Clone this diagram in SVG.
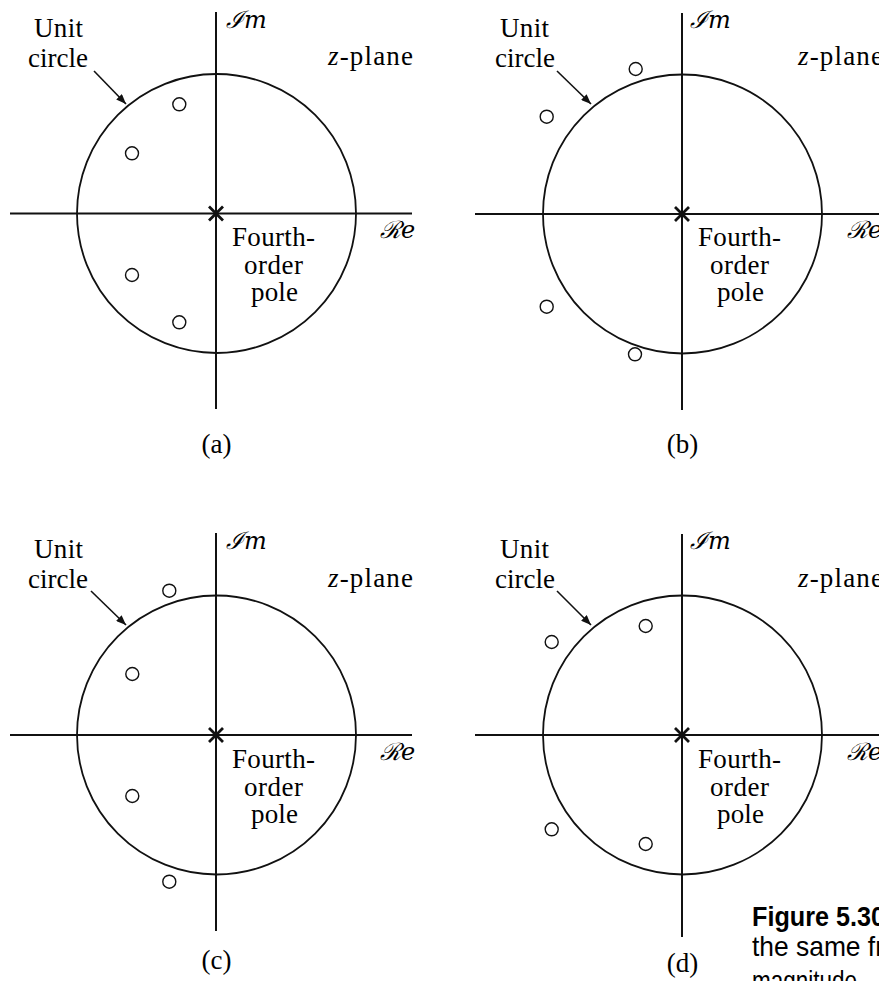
<svg xmlns="http://www.w3.org/2000/svg" width="879" height="981" viewBox="0 0 879 981">
<style>
.ax{stroke:#111;stroke-width:2;fill:none}
.uc{stroke:#111;stroke-width:1.8;fill:none}
.zr{stroke:#111;stroke-width:1.4;fill:none}
.pl{stroke:#111;stroke-width:2.8;fill:none}
.t{font-family:"Liberation Serif","DejaVu Serif",serif;font-size:27px;fill:#000}
.s{font-family:"DejaVu Serif","Liberation Serif",serif;font-size:24px;font-style:italic;fill:#000}
.cap{font-family:"Liberation Sans Narrow","Liberation Sans",sans-serif;font-stretch:condensed;font-size:28px;fill:#000}
.ar{stroke:#111;stroke-width:1.6;fill:none;marker-end:url(#ah)}
</style>
<defs>
<marker id="ah" viewBox="0 0 10 8" refX="10" refY="4" markerWidth="10" markerHeight="8" markerUnits="userSpaceOnUse" orient="auto">
<path d="M0,0 L10,4 L0,8 Z" fill="#111"/>
</marker>
</defs>
<rect width="879" height="981" fill="#fff"/>

<g id="panel-a">
<path class="ax" d="M10 213.5H412M216 12V409"/>
<circle class="uc" cx="216.5" cy="213.5" r="139.5"/>
<path class="pl" d="M209 206.5L223 220.5M223 206.5L209 220.5"/>
<circle class="zr" cx="179.3" cy="104.3" r="6.5"/>
<circle class="zr" cx="132" cy="153.3" r="6.5"/>
<circle class="zr" cx="132" cy="275" r="6.5"/>
<circle class="zr" cx="179.3" cy="322.3" r="6.5"/>
<text class="t" x="34" y="37" textLength="49">Unit</text>
<text class="t" x="28" y="67" textLength="60">circle</text>
<text class="t" x="328" y="65" textLength="85"><tspan font-style="italic">z</tspan>-plane</text>
<text class="s" x="226" y="28">ℐ<tspan>m</tspan></text>
<text class="s" x="380" y="238">ℛ<tspan>e</tspan></text>
<text class="t" x="232" y="246" textLength="83">Fourth-</text>
<text class="t" x="244" y="274" textLength="59">order</text>
<text class="t" x="251" y="301" textLength="47">pole</text>
<text class="t" x="216.5" y="453" text-anchor="middle">(a)</text>
</g>

<g id="panel-b">
<path class="ax" d="M475 214H879M682 13V410"/>
<circle class="uc" cx="682.5" cy="214" r="139.5"/>
<path class="pl" d="M675 207L689 221M689 207L675 221"/>
<circle class="zr" cx="635.7" cy="69" r="6.5"/>
<circle class="zr" cx="546.7" cy="116.7" r="6.5"/>
<circle class="zr" cx="546.7" cy="306.7" r="6.5"/>
<circle class="zr" cx="635" cy="354.3" r="6.5"/>
<text class="t" x="500" y="37" textLength="49">Unit</text>
<text class="t" x="495" y="67" textLength="60">circle</text>
<text class="t" x="798" y="65" textLength="85"><tspan font-style="italic">z</tspan>-plane</text>
<text class="s" x="690" y="28">ℐ<tspan>m</tspan></text>
<text class="s" x="847" y="238">ℛ<tspan>e</tspan></text>
<text class="t" x="698" y="246" textLength="83">Fourth-</text>
<text class="t" x="710" y="274" textLength="59">order</text>
<text class="t" x="717" y="301" textLength="47">pole</text>
<text class="t" x="682.5" y="453" text-anchor="middle">(b)</text>
</g>

<g id="panel-c">
<path class="ax" d="M10 735H412M216 533V931"/>
<circle class="uc" cx="216.5" cy="735" r="139.5"/>
<path class="pl" d="M209 728L223 742M223 728L209 742"/>
<circle class="zr" cx="169.3" cy="590.7" r="6.5"/>
<circle class="zr" cx="132.3" cy="674" r="6.5"/>
<circle class="zr" cx="132.3" cy="796" r="6.5"/>
<circle class="zr" cx="169.3" cy="881.7" r="6.5"/>
<text class="t" x="34" y="558" textLength="49">Unit</text>
<text class="t" x="28" y="588" textLength="60">circle</text>
<text class="t" x="328" y="587" textLength="85"><tspan font-style="italic">z</tspan>-plane</text>
<text class="s" x="226" y="549">ℐ<tspan>m</tspan></text>
<text class="s" x="380" y="760">ℛ<tspan>e</tspan></text>
<text class="t" x="232" y="768" textLength="83">Fourth-</text>
<text class="t" x="244" y="796" textLength="59">order</text>
<text class="t" x="251" y="823" textLength="47">pole</text>
<text class="t" x="216.5" y="969" text-anchor="middle">(c)</text>
</g>

<g id="panel-d">
<path class="ax" d="M475 735H879M682 534V937"/>
<circle class="uc" cx="682.5" cy="735" r="139.5"/>
<path class="pl" d="M675 728L689 742M689 728L675 742"/>
<circle class="zr" cx="645.7" cy="626" r="6.5"/>
<circle class="zr" cx="551.7" cy="642" r="6.5"/>
<circle class="zr" cx="551.7" cy="829.3" r="6.5"/>
<circle class="zr" cx="645.7" cy="844" r="6.5"/>
<text class="t" x="500" y="558" textLength="49">Unit</text>
<text class="t" x="495" y="588" textLength="60">circle</text>
<text class="t" x="798" y="587" textLength="85"><tspan font-style="italic">z</tspan>-plane</text>
<text class="s" x="690" y="549">ℐ<tspan>m</tspan></text>
<text class="s" x="847" y="760">ℛ<tspan>e</tspan></text>
<text class="t" x="698" y="768" textLength="83">Fourth-</text>
<text class="t" x="710" y="796" textLength="59">order</text>
<text class="t" x="717" y="823" textLength="47">pole</text>
<text class="t" x="682.5" y="972" text-anchor="middle">(d)</text>
</g>

<g id="caption">
<text class="cap" x="752" y="926" font-weight="bold" textLength="133" lengthAdjust="spacingAndGlyphs">Figure 5.30</text>
<text class="cap" x="752" y="956" textLength="132" lengthAdjust="spacingAndGlyphs">the same fr</text>
<text class="cap" x="752" y="990" textLength="105" lengthAdjust="spacingAndGlyphs">magnitude</text>
</g>

<g id="connectors">
<path class="ar" d="M94 71L126 104"/>
<path class="ar" d="M557 71L591 104"/>
<path class="ar" d="M91 591L126 625"/>
<path class="ar" d="M557 591L591 625"/>
</g>
</svg>
